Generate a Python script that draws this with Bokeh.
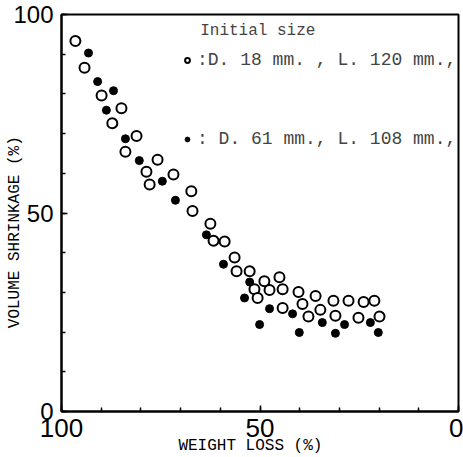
from bokeh.plotting import figure
from bokeh.models import Range1d, FixedTicker, Legend, LegendItem
from bokeh.embed import file_html
from bokeh.resources import INLINE

# ---- data ----
# open circles: D. 18 mm, L. 120 mm
small_loss = [96.5, 94.2, 89.9, 84.9, 87.2, 81.1, 83.9, 75.8, 78.6, 71.8,
              77.8, 67.3, 67.0, 62.5, 61.7, 58.9, 56.4, 55.9, 52.6, 45.1,
              48.9, 51.4, 47.6, 44.3, 40.3, 36.0, 39.3, 31.5, 27.7, 23.9,
              21.2, 44.3, 34.8, 37.8, 31.0, 25.2, 19.9, 50.6]
small_shrink = [93.3, 86.6, 79.6, 76.4, 72.6, 69.4, 65.4, 63.4, 60.4, 59.7,
                57.2, 55.5, 50.5, 47.3, 43.0, 42.8, 38.8, 35.3, 35.3, 33.8,
                32.8, 30.8, 30.6, 30.8, 30.1, 29.1, 27.1, 27.9, 27.9, 27.6,
                27.9, 26.1, 25.6, 23.9, 24.1, 23.6, 23.9, 28.6]
# filled circles: D. 61 mm, L. 108 mm
large_loss = [93.2, 90.9, 86.9, 88.7, 83.9, 80.4, 74.6, 71.3, 63.5, 59.2,
              52.6, 53.9, 47.6, 50.1, 41.8, 40.1, 34.3, 31.0, 28.7, 22.2, 20.2]
large_shrink = [90.3, 83.1, 80.8, 75.9, 68.7, 63.2, 58.0, 53.2, 44.5, 37.1,
                32.6, 28.6, 25.9, 21.9, 24.6, 19.9, 22.4, 19.7, 21.9, 22.4, 19.9]

x_ticks = [100, 50, 0]
y_ticks = [0, 50, 100]
minor_ticks = [0, 10, 20, 30, 40, 50, 60, 70, 80, 90, 100]

legend_title = "Initial size"
label_small = ":D. 18 mm. , L. 120 mm.,"
label_large = ": D. 61 mm., L. 108 mm.,"
x_title = "WEIGHT LOSS (%)"
y_title = "VOLUME SHRINKAGE (%)"

# ---- figure ----
p = figure(width=463, height=457,
           x_range=Range1d(100, 0), y_range=Range1d(0, 100),
           output_backend="svg", toolbar_location=None,
           min_border_left=61, min_border_right=5,
           min_border_top=14, min_border_bottom=45)
p.grid.visible = False
p.outline_line_color = "black"
p.outline_line_width = 2
p.background_fill_color = "white"
p.border_fill_color = "white"

r_small = p.scatter(small_loss, small_shrink, marker="circle", size=10,
                    fill_color="white", line_color="black", line_width=2)
r_large = p.scatter(large_loss, large_shrink, marker="circle", size=8,
                    fill_color="black", line_color="black", line_width=1)

p.xaxis.ticker = FixedTicker(ticks=x_ticks, minor_ticks=minor_ticks)
p.yaxis.ticker = FixedTicker(ticks=y_ticks, minor_ticks=minor_ticks)
for ax in (p.xaxis[0], p.yaxis[0]):
    ax.axis_line_width = 2
    ax.axis_line_color = "black"
    ax.major_tick_in = 6
    ax.major_tick_out = 0
    ax.minor_tick_in = 4
    ax.minor_tick_out = 0
    ax.major_tick_line_width = 1.5
    ax.minor_tick_line_width = 1.5
    ax.major_label_text_font = "Liberation Sans"
    ax.major_label_text_font_size = "26px"
    ax.major_label_text_color = "black"
    ax.axis_label_text_font = "Liberation Mono"
    ax.axis_label_text_font_size = "16px"
    ax.axis_label_text_font_style = "normal"
    ax.axis_label_text_color = "black"

p.yaxis.major_label_text_font_size = "24px"
p.xaxis.major_label_standoff = 7
p.yaxis.major_label_standoff = 8
p.xaxis.axis_label = x_title + "  "
p.xaxis.axis_label_standoff = -3
p.yaxis.axis_label = "    " + y_title
p.yaxis.axis_label_standoff = -14

legend = Legend(items=[LegendItem(label=label_small, renderers=[r_small]),
                       LegendItem(label=label_large, renderers=[r_large])],
                location=(116, 258), title="  " + legend_title,
                title_text_font="Liberation Mono", title_text_font_size="16px",
                title_text_font_style="normal", title_standoff=10,
                label_text_font="Liberation Mono", label_text_font_size="18px",
                glyph_width=12, label_standoff=4, spacing=59,
                margin=0, padding=4,
                border_line_alpha=0, background_fill_alpha=0)
p.add_layout(legend)

open("out.html", "w").write(file_html(p, INLINE))
